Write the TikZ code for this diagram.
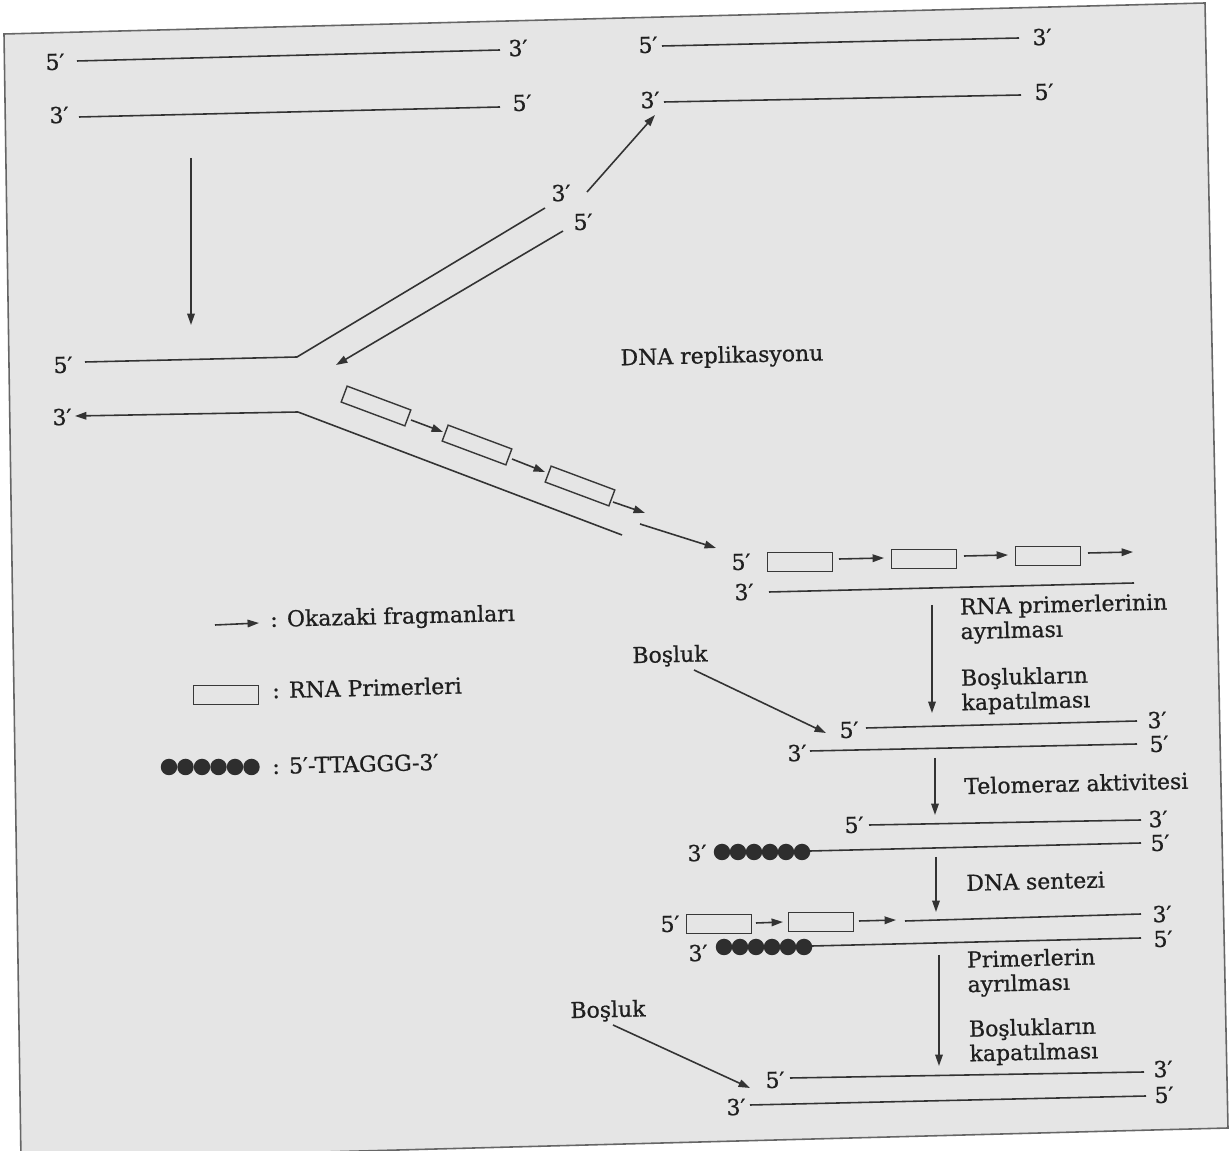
\documentclass[tikz,border=0pt]{standalone}
\usepackage{fontspec}
\setmainfont{DejaVu Serif}[RawFeature={embolden=0.8}]
\usetikzlibrary{arrows.meta}
\begin{document}
\begin{tikzpicture}[x=0.02cm,y=-0.02cm,
  strand/.style={draw=black!80, line width=0.9pt},
  arr/.style={strand, -{Triangle[length=6.5pt,width=4.3pt]}},
  lbl/.style={font=\fontsize{12.5}{14}\selectfont, text=black!88, inner sep=0pt, rotate=1.4},
  txt/.style={lbl, anchor=west, align=left},
  primer/.style={draw=black!78, line width=0.8pt, minimum width=1.3cm, minimum height=0.38cm, inner sep=0pt},
  oka/.style={primer, minimum width=1.36cm, minimum height=0.34cm, rotate=-20.5},
  bead/.style={circle, fill=black!82, minimum size=0.33cm, inner sep=0pt},
]
\useasboundingbox (0,0) rectangle (1232,1151);
\begin{scope}
\clip (0,0) rectangle (1232,1151);
\fill[white] (0,0) rectangle (1232,1151);
\filldraw[fill=black!10, draw=black!60, line width=0.9pt]
  (4,34) -- (1205,3) -- (1228,1128) -- (21,1160) -- cycle;
\end{scope}

% ---- top-left duplex
\node[lbl] (tl5) at (55,62) {5′};
\node[lbl] (tl3) at (518,48) {3′};
\coordinate (tlA1) at (77,61); \coordinate (tlA2) at (500,50);
\draw[strand] (tlA1) -- (tlA2);
\node[lbl] (tl3b) at (59,115) {3′};
\node[lbl] (tl5b) at (522,103) {5′};
\coordinate (tlB1) at (79,117); \coordinate (tlB2) at (500,107);
\draw[strand] (tlB1) -- (tlB2);
\coordinate (d1) at (191,158); \coordinate (d2) at (191,325);
\draw[arr] (d1) -- (d2);

% ---- top-right duplex
\node[lbl] (tr5) at (648,45) {5′};
\node[lbl] (tr3) at (1042,37) {3′};
\coordinate (trA1) at (662,46); \coordinate (trA2) at (1019,38);
\draw[strand] (trA1) -- (trA2);
\node[lbl] (tr3b) at (650,100) {3′};
\node[lbl] (tr5b) at (1044,92) {5′};
\coordinate (trB1) at (664,102); \coordinate (trB2) at (1021,95);
\draw[strand] (trB1) -- (trB2);
\coordinate (u1) at (587,192); \coordinate (u2) at (655,115);
\draw[arr] (u1) -- (u2);

% ---- replication fork
\node[lbl] (f5) at (63,365) {5′};
\coordinate (fa1) at (85,362); \coordinate (fa2) at (297,357); \coordinate (fa3) at (545,208);
\draw[strand] (fa1) -- (fa2) -- (fa3);
\node[lbl] (f3a) at (561,193) {3′};
\node[lbl] (f5a) at (583,222) {5′};
\coordinate (lg1) at (563,231); \coordinate (lg2) at (336,365);
\draw[arr] (lg1) -- (lg2);
\node[lbl] (f3) at (62,417) {3′};
\coordinate (fb0) at (75,416); \coordinate (fb1) at (298,412); \coordinate (fb2) at (622,535);
\draw[arr] (fb1) -- (fb0);
\draw[strand] (fb1) -- (fb2);
\node[oka] (ok1) at (376,406) {};
\node[oka] (ok2) at (477,445) {};
\node[oka] (ok3) at (580,486) {};
\coordinate (oa1) at (411,420); \coordinate (oa2) at (443,432);
\coordinate (ob1) at (512,459); \coordinate (ob2) at (545,472);
\coordinate (oc1) at (613,502); \coordinate (oc2) at (645,513);
\coordinate (od1) at (640,524); \coordinate (od2) at (716,548);
\draw[arr] (oa1) -- (oa2);
\draw[arr] (ob1) -- (ob2);
\draw[arr] (oc1) -- (oc2);
\draw[arr] (od1) -- (od2);

\node[lbl] (title) at (722,357) {DNA replikasyonu};

% ---- right column, step 1
\node[lbl] (r5) at (741,562) {5′};
\node[primer] (p1) at (800,562) {};
\node[primer] (p2) at (924,559) {};
\node[primer] (p3) at (1048,556) {};
\coordinate (ra1) at (839,559); \coordinate (ra2) at (884,558);
\coordinate (rb1) at (964,556); \coordinate (rb2) at (1008,555);
\coordinate (rc1) at (1088,553); \coordinate (rc2) at (1133,552);
\draw[arr] (ra1) -- (ra2);
\draw[arr] (rb1) -- (rb2);
\draw[arr] (rc1) -- (rc2);
\node[lbl] (r3) at (744,592) {3′};
\coordinate (rs1) at (769,592); \coordinate (rs2) at (1134,583);
\draw[strand] (rs1) -- (rs2);
\coordinate (s1a) at (932,605); \coordinate (s1b) at (932,713);
\draw[arr] (s1a) -- (s1b);
\node[txt] (t1) at (960,621) {RNA primerlerinin\\ayrılması};
\node[txt] (t2) at (961,692) {Boşlukların\\kapatılması};

% ---- step 2
\node[lbl] (gap1) at (670,656) {Boşluk};
\coordinate (g1a) at (694,670); \coordinate (g1b) at (826,733);
\draw[arr] (g1a) -- (g1b);
\node[lbl] (s25) at (849,730) {5′};
\coordinate (s2a1) at (866,728); \coordinate (s2a2) at (1137,721);
\draw[strand] (s2a1) -- (s2a2);
\node[lbl] (s23) at (1157,720) {3′};
\node[lbl] (s23b) at (797,753) {3′};
\coordinate (s2b1) at (810,751); \coordinate (s2b2) at (1137,744);
\draw[strand] (s2b1) -- (s2b2);
\node[lbl] (s25b) at (1159,744) {5′};
\coordinate (s2d1) at (935,758); \coordinate (s2d2) at (935,815);
\draw[arr] (s2d1) -- (s2d2);
\node[txt] (t3) at (964,786) {Telomeraz aktivitesi};

% ---- step 3
\node[lbl] (s35) at (854,825) {5′};
\coordinate (s3a1) at (869,825); \coordinate (s3a2) at (1141,820);
\draw[strand] (s3a1) -- (s3a2);
\node[lbl] (s33) at (1158,819) {3′};
\node[lbl] (s33b) at (697,853) {3′};
\foreach \i in {0,...,5} \node[bead] (bA\i) at (722+16*\i,852) {};
\coordinate (s3b1) at (810,851); \coordinate (s3b2) at (1141,843);
\draw[strand] (s3b1) -- (s3b2);
\node[lbl] (s35b) at (1160,843) {5′};
\coordinate (s3d1) at (936,857); \coordinate (s3d2) at (936,912);
\draw[arr] (s3d1) -- (s3d2);
\node[txt] (t4) at (966,883) {DNA sentezi};

% ---- step 4
\node[lbl] (s45) at (670,924) {5′};
\node[primer] (q1) at (719,924) {};
\node[primer] (q2) at (821,922) {};
\coordinate (qa1) at (756,923); \coordinate (qa2) at (783,922);
\coordinate (qb1) at (859,921); \coordinate (qb2) at (896,920);
\draw[arr] (qa1) -- (qa2);
\draw[arr] (qb1) -- (qb2);
\coordinate (s4a1) at (905,921); \coordinate (s4a2) at (1141,914);
\draw[strand] (s4a1) -- (s4a2);
\node[lbl] (s43) at (1162,914) {3′};
\node[lbl] (s43b) at (698,953) {3′};
\foreach \i in {0,...,5} \node[bead] (bB\i) at (724+16*\i,947) {};
\coordinate (s4b1) at (812,946); \coordinate (s4b2) at (1141,938);
\draw[strand] (s4b1) -- (s4b2);
\node[lbl] (s45b) at (1163,939) {5′};
\coordinate (s4d1) at (939,955); \coordinate (s4d2) at (939,1066);
\draw[arr] (s4d1) -- (s4d2);
\node[txt] (t5) at (967,974) {Primerlerin\\ayrılması};
\node[txt] (t6) at (969,1043) {Boşlukların\\kapatılması};

% ---- step 5
\node[lbl] (gap2) at (608,1011) {Boşluk};
\coordinate (g2a) at (613,1025); \coordinate (g2b) at (750,1088);
\draw[arr] (g2a) -- (g2b);
\node[lbl] (s55) at (775,1080) {5′};
\coordinate (s5a1) at (790,1078); \coordinate (s5a2) at (1144,1072);
\draw[strand] (s5a1) -- (s5a2);
\node[lbl] (s53) at (1163,1069) {3′};
\node[lbl] (s53b) at (736,1107) {3′};
\coordinate (s5b1) at (750,1105); \coordinate (s5b2) at (1146,1096);
\draw[strand] (s5b1) -- (s5b2);
\node[lbl] (s55b) at (1164,1095) {5′};

% ---- legend
\coordinate (la1) at (215,625); \coordinate (la2) at (259,623);
\draw[arr] (la1) -- (la2);
\node[txt] (l1) at (270,621) {: Okazaki fragmanları};
\node[primer] (lbox) at (226,695) {};
\node[txt] (l2) at (272,690) {: RNA Primerleri};
\foreach \i in {0,...,5} \node[bead] (bL\i) at (169+16.5*\i,767) {};
\node[txt] (l3) at (272,766) {: 5′-TTAGGG-3′};
\end{tikzpicture}
\end{document}
